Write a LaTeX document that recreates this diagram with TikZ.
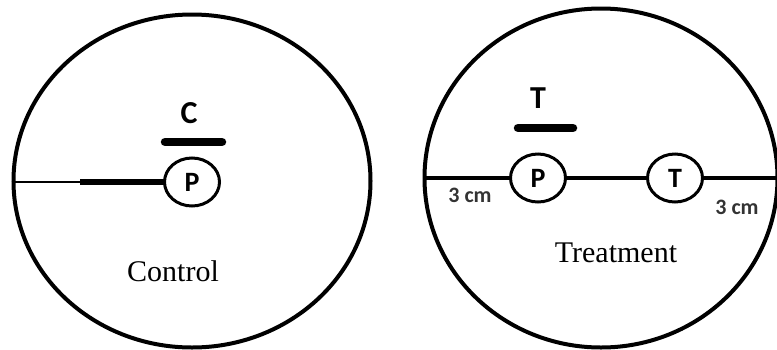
\documentclass[tikz,border=0pt]{standalone}
\usepackage{fontspec}
\setmainfont{Liberation Serif}
\newfontfamily\labfont{Carlito}
\usetikzlibrary{shapes.geometric}

\tikzset{
  dish/.style={ellipse,draw,line width=4pt,inner sep=0pt},
  disc/.style={ellipse,draw,fill=white,line width=3pt,inner sep=0pt,
    minimum width=55pt,minimum height=48pt,
    font=\labfont\bfseries\fontsize{28}{28}\selectfont},
  bar/.style={line width=8.5pt,line cap=round},
  tag/.style={font=\labfont\bfseries\fontsize{32}{32}\selectfont},
  dist/.style={font=\labfont\bfseries\fontsize{22}{22}\selectfont,text=black!80},
  caption/.style={font=\fontsize{30}{30}\selectfont}
}

\begin{document}
\begin{tikzpicture}[x=1pt,y=-1pt,inner sep=0pt,outer sep=0pt]
\useasboundingbox (0,0) rectangle (777,349);
% control dish
\node[dish,minimum width=357pt,minimum height=333pt] (ctrl) at (192,181) {};
\node[disc] (ctrlP) at (192,182) {P};
\coordinate (kink) at (80,182);
\draw[line width=2.5pt] (ctrl.west |- ctrlP) -- (kink);
\draw[line width=5.5pt] (kink) -- (ctrlP.west);
\draw[bar] (165,142) -- (222,142);
\node[tag] (ctrlC) at (189,113) {C};
\node[caption] (ctrlcap) at (173,271) {Control};
% treatment dish
\node[dish,minimum width=353pt,minimum height=339pt] (trt) at (601,178) {};
\node[disc] (trtP) at (538,178) {P};
\node[disc] (trtT) at (675,178) {T};
\draw[line width=3.5pt] (trt.west |- trtP) -- (trtP.west);
\draw[line width=3.5pt] (trtP.east) -- (trtT.west);
\draw[line width=4.5pt] (trtT.east) -- (trt.east |- trtT);
\draw[bar] (518,128) -- (573,128);
\node[tag] (trtTlab) at (538,98) {T};
\node[dist] (distL) at (470,195) {3 cm};
\node[dist] (distR) at (737,207) {3 cm};
\node[caption] (trtcap) at (616,253) {Treatment};
\end{tikzpicture}
\end{document}
